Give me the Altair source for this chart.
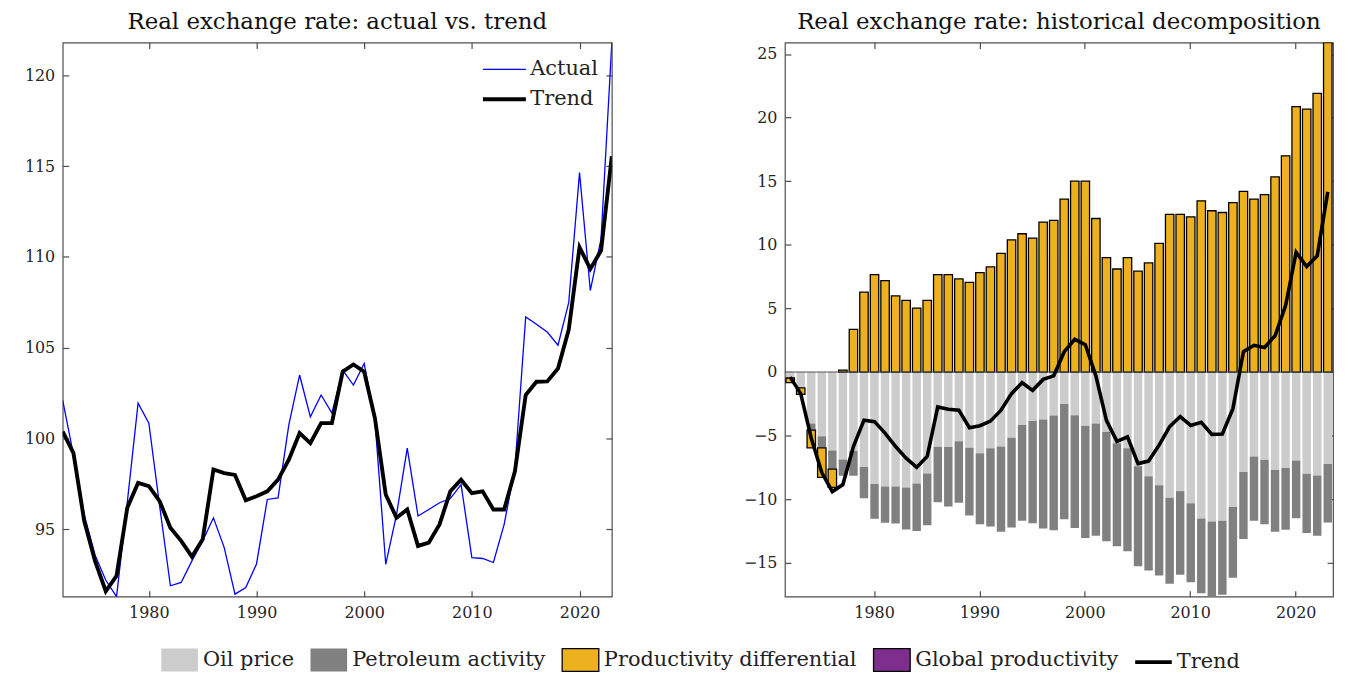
import altair as alt
import pandas as pd

FONT = "DejaVu Serif"

years = list(range(1972, 2024))

actual = [102.1, 99.1, 95.8, 93.6, 92.2, 91.3, 96.5, 101.95, 100.85, 96.3,
          91.9, 92.08, 93.27, 94.37, 95.64, 94.0, 91.44, 91.8, 93.1, 96.65,
          96.74, 100.76, 103.5, 101.2, 102.4, 101.4, 103.77, 102.95, 104.14, 101.0,
          93.08, 95.8, 99.48, 95.74, 96.1, 96.47, 96.7, 97.47, 93.45, 93.4,
          93.18, 95.28, 98.38, 106.7, 106.3, 105.87, 105.14, 107.5, 114.64, 108.15,
          111.0, 121.8]

trend_level = [100.39, 99.2, 95.46, 93.27, 91.6, 92.45, 96.2, 97.56, 97.38, 96.56,
               95.1, 94.37, 93.5, 94.46, 98.3, 98.1, 98.0, 96.6, 96.83, 97.1,
               97.74, 98.84, 100.3, 99.75, 100.85, 100.85, 103.68, 104.08, 103.68, 101.12,
               96.92, 95.64, 96.1, 94.09, 94.27, 95.28, 97.1, 97.74, 97.0, 97.1,
               96.1, 96.1, 98.2, 102.4, 103.13, 103.15, 103.86, 106.0, 110.53, 109.34,
               110.35, 115.55]

oil_price = [-0.47, -1.24, -4.04, -5.05, -6.17, -6.87, -6.2, -7.46, -8.8, -9.0,
             -9.0, -9.07, -8.76, -7.98, -5.88, -5.9, -5.44, -5.96, -6.38, -5.99,
             -5.86, -5.16, -4.17, -3.86, -3.73, -3.42, -2.51, -3.39, -4.22, -4.04,
             -4.69, -5.6, -5.99, -7.4, -8.2, -8.9, -9.88, -9.36, -10.32, -11.52,
             -11.75, -11.7, -10.6, -7.86, -6.64, -6.9, -7.7, -7.55, -6.95, -7.99,
             -8.14, -7.23]

petroleum_activity = [0.0, 0.0, -0.52, -0.91, -1.47, -1.29, -1.96, -2.46, -2.73, -2.84,
                      -2.9, -3.31, -3.74, -4.07, -4.35, -4.67, -4.84, -5.31, -5.58, -6.15,
                      -6.7, -7.06, -7.53, -8.02, -8.57, -9.01, -9.06, -8.88, -8.83, -8.83,
                      -8.62, -8.1, -8.1, -7.86, -7.4, -7.09, -6.76, -6.58, -6.21, -5.88,
                      -5.91, -5.8, -5.57, -5.27, -5.06, -5.06, -4.86, -4.85, -4.54, -4.67,
                      -4.73, -4.6]

productivity_diff = [-0.36, -0.52, -1.4, -2.33, -1.43, 0.15, 3.35, 6.28, 7.65, 7.18,
                     5.98, 5.64, 5.03, 5.64, 7.65, 7.65, 7.32, 7.04, 7.82, 8.27,
                     9.33, 10.39, 10.87, 10.53, 11.79, 11.93, 13.6, 15.0, 15.0, 12.07,
                     9.0, 8.1, 9.0, 7.93, 8.58, 10.11, 12.4, 12.4, 12.2, 13.46,
                     12.68, 12.54, 13.32, 14.2, 13.6, 13.94, 15.34, 17.0, 20.87, 20.67,
                     21.9, 25.9]

global_productivity = [0, 0, 0, 0, 0, 0, 0, 0, 0, 0,
                       0, 0, 0, 0, 0, 0, 0, 0, 0, 0,
                       0, 0, 0, 0, 0, 0, 0, 0, 0, 0,
                       0, 0, 0, 0, 0, 0, 0, 0, 0, 0,
                       0, 0, 0, 0, 0, 0, 0, 0, 0, 0,
                       0, 0]

trend_decomp = [-0.4, -1.7, -5.2, -7.9, -9.4, -8.85, -5.86, -3.78, -3.9, -4.8,
                -5.86, -6.77, -7.49, -6.64, -2.74, -2.92, -3.0, -4.38, -4.22, -3.86,
                -3.0, -1.7, -0.84, -1.44, -0.58, -0.3, 1.6, 2.57, 2.15, -0.3,
                -3.8, -5.45, -5.1, -7.2, -7.0, -5.75, -4.3, -3.5, -4.2, -3.95,
                -4.9, -4.87, -2.88, 1.6, 2.1, 1.93, 2.85, 5.22, 9.41, 8.3,
                9.13, 14.16]

left_series = ["Actual", "Trend"]
left_colors = ["#0000ff", "#000000"]
components = ["Oil price", "Petroleum activity", "Productivity differential",
              "Global productivity", "Trend"]
component_colors = ["#cccccc", "#808080", "#EDB120", "#7E2F8E", "#000000"]
legend_fills = ["#cccccc", "#808080", "#EDB120", "#7E2F8E", "#000000"]
legend_strokes = ["transparent", "transparent", "#000000", "#000000", "transparent"]
BOX = "M-1.6,-1L1.6,-1L1.6,1L-1.6,1Z"
BAR = "M-1.6,-0.16L1.6,-0.16L1.6,0.16L-1.6,0.16Z"
legend_shapes = [BOX, BOX, BOX, BOX, BAR]

year_ticks = [1980, 1990, 2000, 2010, 2020]
left_y_ticks = [95, 100, 105, 110, 115, 120]
right_y_ticks = [-15, -10, -5, 0, 5, 10, 15, 20, 25]

# ---------- data tables ----------
df_left = pd.DataFrame({
    "year": years + years,
    "value": actual + trend_level,
    "series": ["Actual"] * len(years) + ["Trend"] * len(years),
})

bar_rows = []
for order, (name, vals) in enumerate([
        ("Oil price", oil_price),
        ("Petroleum activity", petroleum_activity),
        ("Productivity differential", productivity_diff),
        ("Global productivity", global_productivity)]):
    for y, v in zip(years, vals):
        bar_rows.append({"year": y, "value": v, "component": name, "order": order})
df_bars = pd.DataFrame(bar_rows)

df_trend = pd.DataFrame({"year": years, "value": trend_decomp,
                         "component": ["Trend"] * len(years)})
df_zero = pd.DataFrame({"value": [0]})
df_legend = pd.DataFrame({"component": components})

INWARD = {"expr": "-6"}

# ---------- left panel ----------
lx_scale = alt.Scale(domain=[1972, 2023], nice=False, zero=False)
ly_scale = alt.Scale(domain=[91.3, 121.8], nice=False, zero=False)

left_legend = alt.Legend(
    title=None, orient="none", legendX=430, legendY=14, direction="vertical",
    symbolType="M-1.8,0L1.8,0", symbolSize=576, labelOffset=12, rowPadding=6,
    labelFontSize=21, labelFont=FONT, labelColor="#222222", symbolOpacity=1,
)

left_lines = alt.Chart(df_left).mark_line(clip=True).encode(
    x=alt.X("year:Q", scale=lx_scale,
            axis=alt.Axis(values=year_ticks, format="d", title=None)),
    y=alt.Y("value:Q", scale=ly_scale,
            axis=alt.Axis(values=left_y_ticks, title=None)),
    color=alt.Color("series:N", scale=alt.Scale(domain=left_series, range=left_colors),
                    legend=left_legend),
    strokeWidth=alt.StrokeWidth("series:N",
                                scale=alt.Scale(domain=left_series, range=[1.3, 3.9]),
                                legend=left_legend),
)

left_mirror = alt.Chart(df_left).mark_line(opacity=0).encode(
    x=alt.X("year:Q", scale=lx_scale,
            axis=alt.Axis(orient="top", values=year_ticks, labels=False, title=None)),
    y=alt.Y("value:Q", scale=ly_scale,
            axis=alt.Axis(orient="right", values=left_y_ticks, labels=False, title=None)),
    detail="series:N",
)

left = alt.layer(left_lines, left_mirror).resolve_axis(
    x="independent", y="independent"
).properties(
    width=552, height=557,
    title=alt.TitleParams("Real exchange rate: actual vs. trend", font=FONT,
                          fontSize=23, fontWeight="normal", color="#111111", offset=8),
)

# ---------- right panel ----------
rx_scale = alt.Scale(type="band", paddingInner=0.2, paddingOuter=0.1)
ry_scale = alt.Scale(domain=[-17.66, 25.9], nice=False, zero=False)

right_legend = alt.Legend(
    title=None, orient="none", legendX=105, legendY=608, direction="horizontal",
    columns=5, symbolSize=529, labelOffset=11, columnPadding=13, labelLimit=500,
    labelFontSize=21, labelFont=FONT, labelColor="#222222", symbolOpacity=1,
    symbolStrokeWidth=1.3,
)

bars = alt.Chart(df_bars).transform_filter("datum.value != 0").mark_bar(
    strokeWidth=1.3, clip=True
).encode(
    x=alt.X("year:O", scale=rx_scale,
            axis=alt.Axis(values=year_ticks, labelAngle=0, title=None)),
    y=alt.Y("value:Q", stack="zero", scale=ry_scale,
            axis=alt.Axis(values=right_y_ticks, title=None)),
    color=alt.Color("component:N",
                    scale=alt.Scale(domain=components, range=component_colors),
                    legend=None),
    order=alt.Order("order:Q"),
    stroke=alt.condition(
        "datum.component === 'Productivity differential' || "
        "datum.component === 'Global productivity'",
        alt.value("#000000"), alt.value("transparent")),
)

zero_line = alt.Chart(df_zero).mark_rule(color="#555555", strokeWidth=1).encode(
    y=alt.Y("value:Q", scale=ry_scale, axis=None),
)

trend_line = alt.Chart(df_trend).mark_line(strokeWidth=3.6, clip=True).encode(
    x=alt.X("year:O", scale=rx_scale, axis=None),
    y=alt.Y("value:Q", scale=ry_scale, axis=None),
    color=alt.Color("component:N",
                    scale=alt.Scale(domain=components, range=component_colors),
                    legend=None),
)

legend_keys = alt.Chart(df_legend).transform_filter("false").mark_point(
    filled=True, size=529
).encode(
    fill=alt.Fill("component:N", scale=alt.Scale(domain=components, range=legend_fills),
                  legend=right_legend),
    stroke=alt.Stroke("component:N",
                      scale=alt.Scale(domain=components, range=legend_strokes),
                      legend=right_legend),
    shape=alt.Shape("component:N",
                    scale=alt.Scale(domain=components, range=legend_shapes),
                    legend=right_legend),
)

right_mirror = alt.Chart(df_trend).mark_line(opacity=0).encode(
    x=alt.X("year:O", scale=rx_scale,
            axis=alt.Axis(orient="top", values=year_ticks, labels=False, title=None)),
    y=alt.Y("value:Q", scale=ry_scale,
            axis=alt.Axis(orient="right", values=right_y_ticks, labels=False, title=None)),
)

right = alt.layer(bars, zero_line, trend_line, right_mirror, legend_keys).resolve_axis(
    x="independent", y="independent"
).properties(
    width=551, height=557,
    title=alt.TitleParams("Real exchange rate: historical decomposition", font=FONT,
                          fontSize=23, fontWeight="normal", color="#111111", offset=8),
)

chart = alt.hconcat(left, right, spacing=174, bounds="flush").resolve_scale(
    color="independent", strokeWidth="independent"
).properties(
    padding={"left": 15, "top": 0, "right": 5, "bottom": 0},
).configure_view(
    stroke="#4d4d4d", strokeWidth=1.2,
).configure_axis(
    labelFont=FONT, labelFontSize=16, labelColor="#262626",
    tickColor="#4d4d4d", tickWidth=1.2, tickSize=INWARD, labelPadding=14,
    domain=False, grid=False,
).configure_legend(
    padding=0,
)

chart.save("out.html", embed_options={"renderer": "svg", "actions": False})
